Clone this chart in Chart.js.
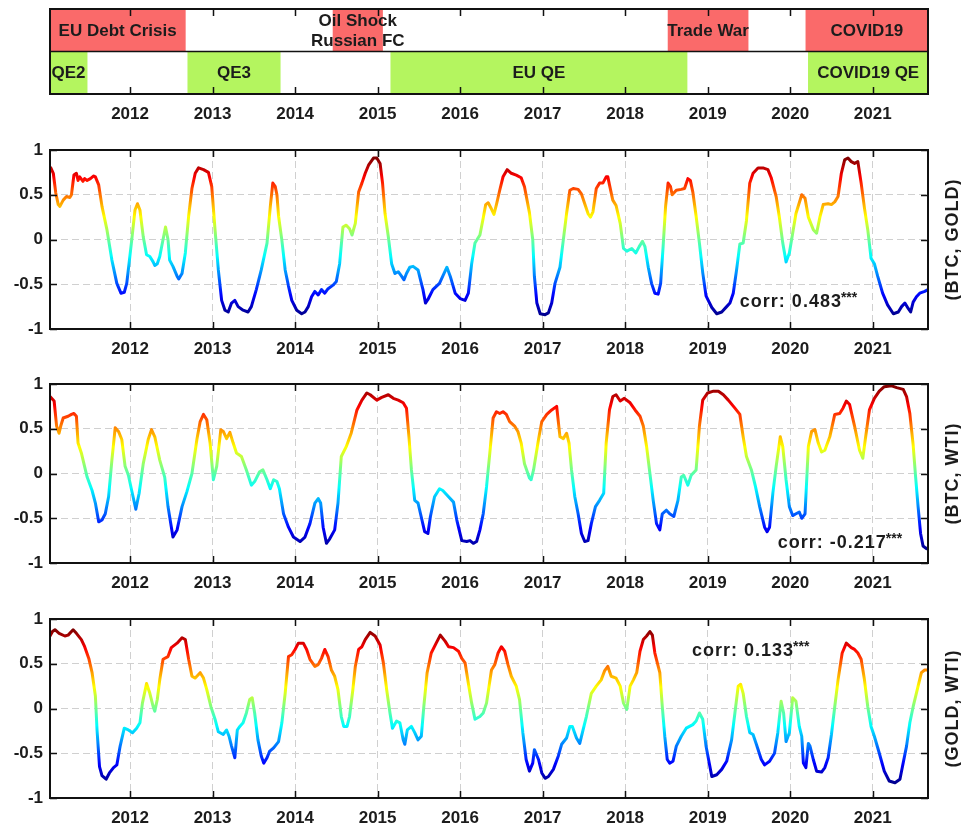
<!DOCTYPE html>
<html>
<head>
<meta charset="utf-8">
<script src="https://cdn.jsdelivr.net/npm/chart.js@4.4.0/dist/chart.umd.min.js"></script>
<style>
  html, body { margin: 0; padding: 0; background: #fff; overflow: hidden; width: 961px; height: 826px; }
  .panel { position: absolute; left: 0; width: 961px; }
</style>
</head>
<body>
<div class="panel" style="top:0px;height:140px"><canvas id="events" width="961" height="140"></canvas></div>
<div class="panel" style="top:120px;height:249px"><canvas id="btcGold" width="961" height="249"></canvas></div>
<div class="panel" style="top:354px;height:249px"><canvas id="btcWti" width="961" height="249"></canvas></div>
<div class="panel" style="top:589px;height:249px"><canvas id="goldWti" width="961" height="249"></canvas></div>
<script>
// axis ticks
const yearTicks = [2012, 2013, 2014, 2015, 2016, 2017, 2018, 2019, 2020, 2021];
const corrTicks = [-1, -0.5, 0, 0.5, 1];
const corrTickLabels = ['-1', '-0.5', '0', '0.5', '1'];

// event bars (decimal years)
const eventNames = ['EU Debt Crisis', 'Oil Shock\nRussian FC', 'Trade War', 'COVID19', 'QE2', 'QE3', 'EU QE', 'COVID19 QE'];
const eventRows = ['crisis', 'crisis', 'crisis', 'crisis', 'qe', 'qe', 'qe', 'qe'];
const eventStarts = [2011.03, 2014.46, 2018.52, 2020.19, 2011.03, 2012.70, 2015.16, 2020.22];
const eventEnds = [2012.67, 2015.06, 2019.49, 2021.67, 2011.48, 2013.82, 2018.75, 2021.67];

// (BTC, GOLD) rolling correlation
const btcGoldDates = [2011.04,2011.07,2011.10,2011.13,2011.15,2011.19,2011.23,2011.27,2011.29,2011.32,2011.35,2011.37,2011.39,2011.43,2011.45,2011.48,2011.52,2011.56,2011.58,2011.62,2011.66,2011.72,2011.78,2011.84,2011.89,2011.93,2011.96,2012.02,2012.06,2012.09,2012.12,2012.16,2012.20,2012.24,2012.28,2012.30,2012.33,2012.36,2012.40,2012.43,2012.46,2012.48,2012.52,2012.57,2012.59,2012.63,2012.67,2012.71,2012.75,2012.79,2012.83,2012.89,2012.95,2012.99,2013.03,2013.07,2013.11,2013.15,2013.19,2013.23,2013.27,2013.31,2013.37,2013.43,2013.47,2013.53,2013.59,2013.66,2013.70,2013.73,2013.76,2013.78,2013.80,2013.84,2013.88,2013.92,2013.96,2014.02,2014.08,2014.12,2014.16,2014.20,2014.24,2014.28,2014.32,2014.36,2014.40,2014.46,2014.50,2014.54,2014.58,2014.62,2014.66,2014.69,2014.73,2014.77,2014.81,2014.85,2014.89,2014.95,2014.99,2015.03,2015.06,2015.09,2015.13,2015.17,2015.21,2015.25,2015.29,2015.32,2015.35,2015.39,2015.43,2015.49,2015.52,2015.55,2015.58,2015.61,2015.67,2015.75,2015.79,2015.84,2015.88,2015.94,2016.00,2016.06,2016.10,2016.14,2016.18,2016.24,
  2016.28,2016.31,2016.34,2016.38,2016.41,2016.44,2016.48,2016.52,2016.57,2016.62,2016.68,2016.74,2016.78,2016.84,2016.88,2016.90,2016.93,2016.97,2017.03,2017.07,2017.11,2017.15,2017.21,2017.25,2017.29,2017.33,2017.37,2017.43,2017.47,2017.51,2017.55,2017.58,2017.61,2017.65,2017.69,2017.73,2017.77,2017.79,2017.81,2017.85,2017.89,2017.94,2017.98,2018.02,2018.08,2018.13,2018.17,2018.21,2018.24,2018.28,2018.32,2018.36,2018.40,2018.43,2018.46,2018.49,2018.52,2018.55,2018.57,2018.62,2018.68,2018.72,2018.76,2018.79,2018.82,2018.86,2018.90,2018.94,2018.98,2019.05,2019.11,2019.17,2019.23,2019.27,2019.31,2019.35,2019.39,2019.43,2019.47,2019.51,2019.55,2019.61,2019.67,2019.73,2019.77,2019.83,2019.87,2019.91,2019.95,2019.99,2020.03,2020.07,2020.14,2020.18,2020.22,2020.28,2020.32,2020.36,2020.40,2020.46,2020.50,2020.54,2020.58,2020.62,2020.66,2020.70,2020.74,2020.78,2020.82,2020.86,2020.90,2020.94,2020.98,2021.02,2021.06,2021.12,2021.18,2021.25,2021.31,2021.35,2021.39,2021.43,2021.46,2021.49,2021.53,2021.57,2021.63,2021.67];
const btcGoldValues = [0.80,0.74,0.52,0.39,0.37,0.44,0.48,0.47,0.50,0.72,0.74,0.66,0.70,0.65,0.68,0.66,0.68,0.71,0.70,0.61,0.37,0.11,-0.23,-0.49,-0.60,-0.59,-0.49,-0.01,0.33,0.40,0.33,0.03,-0.17,-0.19,-0.25,-0.29,-0.27,-0.19,0.00,0.14,0.00,-0.23,-0.30,-0.41,-0.44,-0.38,-0.15,0.26,0.57,0.74,0.80,0.78,0.75,0.59,0.11,-0.34,-0.68,-0.79,-0.81,-0.71,-0.68,-0.75,-0.79,-0.81,-0.75,-0.56,-0.34,-0.04,0.37,0.63,0.59,0.50,0.26,-0.01,-0.34,-0.52,-0.68,-0.79,-0.83,-0.81,-0.75,-0.64,-0.58,-0.62,-0.56,-0.60,-0.55,-0.51,-0.47,-0.27,0.14,0.16,0.12,0.05,0.18,0.53,0.63,0.74,0.83,0.91,0.91,0.85,0.63,0.29,0.03,-0.27,-0.38,-0.36,-0.41,-0.45,-0.38,-0.31,-0.30,-0.34,-0.45,-0.56,-0.71,-0.67,-0.56,-0.49,-0.41,-0.31,-0.41,-0.60,-0.66,-0.68,-0.60,-0.27,-0.04,0.05,
  0.24,0.39,0.41,0.34,0.28,0.39,0.55,0.70,0.78,0.74,0.72,0.69,0.59,0.30,0.00,-0.41,-0.71,-0.83,-0.84,-0.82,-0.71,-0.49,-0.31,-0.01,0.29,0.55,0.57,0.56,0.51,0.40,0.29,0.25,0.31,0.57,0.63,0.63,0.70,0.70,0.61,0.44,0.38,0.18,-0.10,-0.13,-0.10,-0.15,-0.08,-0.02,-0.08,-0.31,-0.49,-0.60,-0.61,-0.49,-0.08,0.37,0.63,0.59,0.50,0.55,0.56,0.57,0.68,0.66,0.53,0.26,-0.04,-0.37,-0.63,-0.76,-0.83,-0.81,-0.75,-0.71,-0.60,-0.34,-0.05,-0.04,0.21,0.63,0.74,0.80,0.80,0.78,0.69,0.48,0.24,-0.04,-0.25,-0.15,0.07,0.29,0.50,0.46,0.25,0.11,0.07,0.25,0.39,0.40,0.39,0.42,0.48,0.74,0.89,0.91,0.87,0.85,0.87,0.63,0.35,0.11,-0.21,-0.27,-0.41,-0.60,-0.73,-0.83,-0.81,-0.75,-0.71,-0.77,-0.81,-0.70,-0.64,-0.60,-0.58,-0.56];

// (BTC, WTI) rolling correlation
const btcWtiDates = [2011.03,2011.08,2011.11,2011.14,2011.16,2011.19,2011.25,2011.29,2011.32,2011.35,2011.37,2011.41,2011.48,2011.54,2011.58,2011.62,2011.66,2011.70,2011.74,2011.78,2011.82,2011.86,2011.90,2011.94,2011.98,2012.02,2012.07,2012.11,2012.16,2012.22,2012.26,2012.30,2012.36,2012.42,2012.46,2012.52,2012.57,2012.63,2012.69,2012.75,2012.81,2012.85,2012.89,2012.93,2012.97,2013.01,2013.05,2013.10,2013.13,2013.17,2013.21,2013.25,2013.29,2013.35,2013.41,2013.47,2013.51,2013.57,2013.61,2013.66,2013.70,2013.74,2013.78,2013.81,2013.86,2013.92,2013.98,2014.06,2014.12,2014.18,2014.24,2014.28,2014.31,2014.34,2014.38,2014.42,2014.48,2014.52,2014.56,2014.62,2014.68,2014.75,2014.81,2014.87,2014.91,2014.99,2015.05,2015.13,2015.19,2015.25,2015.31,2015.35,2015.38,2015.41,2015.45,2015.49,2015.52,2015.57,2015.61,2015.64,2015.69,2015.75,2015.79,2015.86,2015.92,2015.96,2016.02,2016.08,2016.12,2016.16,2016.20,2016.24,
  2016.28,2016.32,2016.36,2016.40,2016.44,2016.48,2016.52,2016.56,2016.60,2016.66,2016.70,2016.74,2016.78,2016.84,2016.86,2016.89,2016.95,2016.99,2017.05,2017.11,2017.17,2017.21,2017.25,2017.29,2017.32,2017.35,2017.39,2017.43,2017.47,2017.51,2017.55,2017.59,2017.64,2017.69,2017.74,2017.77,2017.81,2017.85,2017.89,2017.94,2017.99,2018.06,2018.12,2018.18,2018.22,2018.26,2018.30,2018.34,2018.38,2018.42,2018.45,2018.50,2018.54,2018.59,2018.64,2018.68,2018.71,2018.76,2018.80,2018.86,2018.90,2018.94,2019.00,2019.07,2019.13,2019.19,2019.25,2019.33,2019.39,2019.43,2019.47,2019.53,2019.58,2019.63,2019.69,2019.72,2019.75,2019.79,2019.83,2019.88,2019.91,2019.95,2019.99,2020.03,2020.07,2020.11,2020.14,2020.18,2020.22,2020.26,2020.30,2020.34,2020.38,2020.42,2020.48,2020.54,2020.60,2020.64,2020.68,2020.72,2020.78,2020.84,2020.88,2020.91,2020.96,2021.02,2021.08,2021.14,2021.23,2021.29,2021.37,2021.41,2021.45,2021.49,2021.52,2021.55,2021.58,2021.61,2021.65,2021.67];
const btcWtiValues = [0.86,0.81,0.53,0.45,0.53,0.62,0.64,0.66,0.67,0.64,0.34,0.23,-0.04,-0.19,-0.33,-0.54,-0.52,-0.45,-0.26,0.15,0.51,0.47,0.38,0.08,-0.02,-0.19,-0.40,-0.22,0.11,0.38,0.49,0.41,0.15,-0.04,-0.37,-0.71,-0.63,-0.37,-0.20,0.00,0.38,0.58,0.66,0.60,0.34,-0.07,0.08,0.49,0.47,0.39,0.46,0.34,0.23,0.19,0.04,-0.13,-0.09,0.02,0.04,-0.07,-0.17,-0.07,-0.09,-0.17,-0.45,-0.60,-0.71,-0.76,-0.71,-0.56,-0.33,-0.28,-0.33,-0.60,-0.78,-0.73,-0.63,-0.33,0.19,0.30,0.45,0.71,0.82,0.90,0.88,0.82,0.85,0.88,0.84,0.82,0.79,0.73,0.41,0.04,-0.30,-0.33,-0.45,-0.65,-0.67,-0.48,-0.26,-0.17,-0.19,-0.26,-0.32,-0.52,-0.75,-0.76,-0.75,-0.78,-0.76,-0.63,
  -0.45,-0.15,0.23,0.62,0.69,0.67,0.69,0.66,0.58,0.53,0.47,0.34,0.11,-0.05,-0.07,0.04,0.38,0.58,0.66,0.71,0.75,0.41,0.39,0.45,0.34,0.04,-0.26,-0.45,-0.67,-0.76,-0.75,-0.56,-0.37,-0.30,-0.22,0.34,0.71,0.86,0.88,0.81,0.84,0.79,0.71,0.64,0.53,0.30,0.00,-0.30,-0.56,-0.63,-0.45,-0.41,-0.45,-0.48,-0.30,-0.04,-0.02,-0.13,-0.02,0.04,0.53,0.82,0.90,0.92,0.92,0.88,0.82,0.73,0.66,0.41,0.19,0.04,-0.15,-0.37,-0.60,-0.65,-0.60,-0.22,0.08,0.41,0.30,-0.07,-0.37,-0.47,-0.45,-0.43,-0.50,-0.45,0.30,0.47,0.49,0.34,0.24,0.26,0.41,0.66,0.67,0.73,0.81,0.77,0.53,0.26,0.17,0.38,0.71,0.84,0.92,0.97,0.98,0.96,0.94,0.86,0.67,0.32,-0.04,-0.37,-0.67,-0.81,-0.84,-0.83];

// (GOLD, WTI) rolling correlation
const goldWtiDates = [2011.03,2011.06,2011.09,2011.14,2011.21,2011.25,2011.31,2011.35,2011.41,2011.45,2011.50,2011.54,2011.58,2011.60,2011.63,2011.66,2011.71,2011.75,2011.80,2011.84,2011.88,2011.93,2011.98,2012.03,2012.08,2012.12,2012.15,2012.20,2012.24,2012.28,2012.30,2012.33,2012.36,2012.40,2012.46,2012.50,2012.57,2012.63,2012.67,2012.71,2012.75,2012.79,2012.85,2012.89,2012.93,2012.98,2013.03,2013.07,2013.13,2013.17,2013.20,2013.23,2013.27,2013.30,2013.33,2013.37,2013.41,2013.45,2013.48,2013.51,2013.55,2013.59,2013.62,2013.66,2013.69,2013.74,2013.80,2013.84,2013.88,2013.92,2013.96,2014.00,2014.04,2014.10,2014.14,2014.18,2014.24,2014.28,2014.32,2014.36,2014.40,2014.44,2014.48,2014.52,2014.56,2014.59,2014.63,2014.66,2014.70,2014.73,2014.77,2014.81,2014.85,2014.91,2014.97,2015.03,2015.07,2015.11,2015.15,2015.18,2015.23,2015.27,2015.31,2015.33,2015.36,2015.41,2015.45,2015.49,2015.53,2015.56,2015.60,2015.65,2015.71,2015.76,2015.82,2015.86,2015.92,2015.98,2016.02,2016.06,2016.10,2016.14,2016.18,2016.24,
  2016.28,2016.32,2016.38,2016.42,2016.46,2016.50,2016.54,2016.58,2016.62,2016.68,2016.72,2016.76,2016.80,2016.84,2016.88,2016.90,2016.95,2016.99,2017.03,2017.07,2017.13,2017.19,2017.23,2017.29,2017.33,2017.36,2017.41,2017.45,2017.49,2017.53,2017.59,2017.65,2017.71,2017.75,2017.79,2017.83,2017.89,2017.94,2017.98,2018.02,2018.06,2018.10,2018.14,2018.18,2018.22,2018.26,2018.30,2018.33,2018.36,2018.42,2018.45,2018.48,2018.51,2018.54,2018.58,2018.62,2018.68,2018.74,2018.82,2018.86,2018.90,2018.94,2018.98,2019.05,2019.11,2019.17,2019.23,2019.29,2019.33,2019.37,2019.40,2019.43,2019.47,2019.51,2019.55,2019.59,2019.65,2019.69,2019.75,2019.81,2019.85,2019.89,2019.92,2019.95,2019.99,2020.03,2020.07,2020.11,2020.14,2020.16,2020.19,2020.22,2020.24,2020.28,2020.32,2020.38,2020.42,2020.46,2020.50,2020.54,2020.58,2020.63,2020.68,2020.74,2020.78,2020.82,2020.86,2020.90,2020.94,2020.98,2021.02,2021.08,2021.14,2021.20,2021.27,2021.33,2021.36,2021.41,2021.45,2021.49,2021.55,2021.59,2021.63,2021.67];
const goldWtiValues = [0.81,0.86,0.88,0.84,0.81,0.82,0.88,0.84,0.77,0.69,0.56,0.40,0.14,-0.24,-0.65,-0.75,-0.79,-0.72,-0.66,-0.63,-0.42,-0.22,-0.24,-0.27,-0.22,-0.16,0.06,0.28,0.17,0.02,-0.03,0.10,0.32,0.55,0.58,0.68,0.73,0.79,0.77,0.55,0.36,0.34,0.40,0.34,0.21,0.02,-0.12,-0.26,-0.29,-0.24,-0.31,-0.42,-0.55,-0.24,-0.20,-0.16,-0.05,0.10,0.12,-0.05,-0.35,-0.53,-0.61,-0.55,-0.48,-0.44,-0.37,-0.16,0.17,0.58,0.60,0.66,0.73,0.73,0.66,0.55,0.47,0.49,0.56,0.66,0.58,0.43,0.36,0.21,-0.09,-0.20,-0.20,-0.09,0.21,0.47,0.66,0.69,0.77,0.85,0.81,0.71,0.51,0.21,-0.05,-0.22,-0.14,-0.16,-0.35,-0.40,-0.24,-0.20,-0.27,-0.35,-0.31,0.02,0.40,0.62,0.73,0.82,0.75,0.69,0.68,0.64,0.56,0.51,0.28,0.06,-0.12,-0.09,
  -0.05,0.06,0.43,0.49,0.62,0.69,0.64,0.49,0.36,0.25,0.10,-0.27,-0.57,-0.70,-0.61,-0.46,-0.57,-0.72,-0.78,-0.76,-0.68,-0.53,-0.40,-0.33,-0.20,-0.20,-0.33,-0.39,-0.24,-0.09,0.17,0.25,0.32,0.42,0.47,0.36,0.34,0.25,0.06,-0.01,0.25,0.32,0.40,0.64,0.77,0.81,0.86,0.82,0.62,0.40,0.02,-0.31,-0.57,-0.61,-0.59,-0.42,-0.31,-0.22,-0.18,-0.14,-0.05,-0.12,-0.42,-0.76,-0.74,-0.68,-0.59,-0.35,-0.05,0.25,0.27,0.17,-0.09,-0.27,-0.29,-0.40,-0.57,-0.63,-0.59,-0.50,-0.27,0.08,-0.05,-0.37,-0.27,0.12,0.08,-0.20,-0.31,-0.61,-0.66,-0.39,-0.42,-0.57,-0.70,-0.71,-0.66,-0.55,-0.29,0.02,0.32,0.62,0.73,0.68,0.66,0.62,0.55,0.32,0.02,-0.20,-0.31,-0.50,-0.70,-0.81,-0.83,-0.79,-0.65,-0.42,-0.16,0.02,0.25,0.40,0.43,0.43];

const pairNames = ['(BTC, GOLD)', '(BTC, WTI)', '(GOLD, WTI)'];
const corrTexts = ['corr: 0.483', 'corr: -0.217', 'corr: 0.133'];
// where each corr note sits, in data units (left edge, middle)
const corrAtYear = [2019.39, 2019.85, 2018.81];
const corrAtValue = [-0.70, -0.78, 0.64];

const X_MIN = 2011.03, X_MAX = 2021.67;
const FONT = "'Liberation Sans', Arial, Helvetica, sans-serif";
const INK = '#1c1c1c';

Chart.defaults.font.family = FONT;
Chart.defaults.font.size = 17;
Chart.defaults.font.weight = 'bold';
Chart.defaults.color = INK;

// MATLAB jet colours spread over the series range
function jetGradient(chart, values) {
  const area = chart.chartArea;
  if (!area) return '#000';
  const y = chart.scales.y;
  const lo = y.getPixelForValue(Math.min(...values));
  const hi = y.getPixelForValue(Math.max(...values));
  const g = chart.ctx.createLinearGradient(0, lo, 0, hi);
  g.addColorStop(0, '#00008f');
  g.addColorStop(0.125, '#0000ff');
  g.addColorStop(0.375, '#00ffff');
  g.addColorStop(0.625, '#ffff00');
  g.addColorStop(0.875, '#ff0000');
  g.addColorStop(1, '#800000');
  return g;
}

// box, inward ticks, side label and corr note
const framePlugin = {
  id: 'frame',
  afterDatasetsDraw(chart, args, opts) {
    const { ctx, chartArea: a, scales } = chart;
    ctx.save();
    ctx.strokeStyle = '#111';
    ctx.lineWidth = 1.5;
    ctx.beginPath();
    scales.x.ticks.forEach(t => {
      const px = Math.round(scales.x.getPixelForValue(t.value)) + 0.5;
      ctx.moveTo(px, a.top); ctx.lineTo(px, a.top + 7);
      ctx.moveTo(px, a.bottom); ctx.lineTo(px, a.bottom - 7);
    });
    if (opts.yTicks) {
      scales.y.ticks.forEach(t => {
        const py = Math.round(scales.y.getPixelForValue(t.value)) + 0.5;
        ctx.moveTo(a.left, py); ctx.lineTo(a.left + 7, py);
        ctx.moveTo(a.right, py); ctx.lineTo(a.right - 7, py);
      });
    }
    if (opts.rows) {
      const my = (scales.y.getPixelForValue(0) + scales.y.getPixelForValue(1)) / 2;
      ctx.moveTo(a.left, my); ctx.lineTo(a.right, my);
    }
    ctx.stroke();
    ctx.lineWidth = 2;
    ctx.strokeRect(a.left, a.top, a.width, a.height);

    ctx.fillStyle = INK;
    if (opts.side) {
      ctx.save();
      ctx.translate(a.right + 25, (a.top + a.bottom) / 2);
      ctx.rotate(-Math.PI / 2);
      ctx.font = 'bold 18px ' + FONT;
      ctx.letterSpacing = '1px';
      ctx.textAlign = 'center';
      ctx.textBaseline = 'middle';
      ctx.fillText(opts.side, 0, 0);
      ctx.restore();
    }
    if (opts.corr) {
      const cx = scales.x.getPixelForValue(opts.corrX);
      const cy = scales.y.getPixelForValue(opts.corrY);
      ctx.font = 'bold 18px ' + FONT;
      ctx.letterSpacing = '1px';
      ctx.textAlign = 'left';
      ctx.textBaseline = 'middle';
      ctx.fillText(opts.corr, cx, cy);
      const w = ctx.measureText(opts.corr).width;
      // superscript significance stars
      ctx.font = 'bold 14px ' + FONT;
      ctx.letterSpacing = '0px';
      ctx.fillText('***', cx + w - 1, cy - 4);
    }
    ctx.restore();
  }
};

// names inside the event bars
const barTextPlugin = {
  id: 'barText',
  afterDatasetsDraw(chart, args, opts) {
    const ctx = chart.ctx;
    const meta = chart.getDatasetMeta(0);
    ctx.save();
    ctx.fillStyle = INK;
    ctx.font = 'bold 17px ' + FONT;
    ctx.textAlign = 'center';
    ctx.textBaseline = 'middle';
    meta.data.forEach((bar, i) => {
      const lines = opts.names[i].split('\n');
      const cx = (bar.x + bar.base) / 2;
      lines.forEach((ln, k) => {
        ctx.fillText(ln, cx, bar.y + 1 + (k - (lines.length - 1) / 2) * 20);
      });
    });
    ctx.restore();
  }
};

function yearAxis(showGrid, height) {
  return {
    type: 'linear',
    min: X_MIN,
    max: X_MAX,
    afterBuildTicks: s => { s.ticks = yearTicks.map(v => ({ value: v })); },
    afterFit: s => { s.height = height; },
    ticks: { autoSkip: false, maxRotation: 0, padding: 10, callback: v => String(v) },
    grid: { display: showGrid, drawTicks: false, color: '#d0d0d0', lineWidth: 1 },
    border: { display: false, dash: [7, 4] }
  };
}

// top strip: crises and QE programmes
new Chart(document.getElementById('events'), {
  type: 'bar',
  data: {
    labels: ['crisis', 'qe'],
    datasets: [{
      data: eventNames.map((n, i) => ({ y: eventRows[i], x: [eventStarts[i], eventEnds[i]] })),
      backgroundColor: eventRows.map(r => r === 'crisis' ? '#fa6a6a' : '#b4f55f'),
      barPercentage: 1,
      categoryPercentage: 1,
      borderWidth: 0,
      grouped: false
    }]
  },
  options: {
    indexAxis: 'y',
    responsive: false,
    animation: false,
    layout: { padding: { top: 9, right: 33, left: 0, bottom: 0 } },
    plugins: {
      legend: { display: false },
      tooltip: { enabled: false },
      frame: { rows: true },
      barText: { names: eventNames }
    },
    scales: {
      x: yearAxis(false, 46),
      y: {
        afterFit: s => { s.width = 50; },
        ticks: { display: false },
        grid: { display: false },
        border: { display: false }
      }
    }
  },
  plugins: [framePlugin, barTextPlugin]
});

function corrChart(id, dates, values, k) {
  new Chart(document.getElementById(id), {
    type: 'line',
    data: {
      datasets: [{
        data: dates.map((d, i) => ({ x: d, y: values[i] })),
        borderColor: ctx => jetGradient(ctx.chart, values),
        borderWidth: 3,
        pointRadius: 0,
        tension: 0,
        fill: false,
        borderJoinStyle: 'round',
        borderCapStyle: 'round'
      }]
    },
    options: {
      responsive: false,
      animation: false,
      layout: { padding: { top: 30, right: 33, left: 0, bottom: 0 } },
      plugins: {
        legend: { display: false },
        tooltip: { enabled: false },
        frame: { yTicks: true, side: pairNames[k], corr: corrTexts[k], corrX: corrAtYear[k], corrY: corrAtValue[k] }
      },
      scales: {
        x: yearAxis(true, 40),
        y: {
          min: -1,
          max: 1,
          afterBuildTicks: s => { s.ticks = corrTicks.map(v => ({ value: v })); },
          afterFit: s => { s.width = 50; },
          ticks: { padding: 7, callback: (v, i) => corrTickLabels[i] },
          grid: {
            drawTicks: false,
            lineWidth: 1,
            color: c => Math.abs(c.tick.value) === 1 ? 'rgba(0,0,0,0)' : '#d0d0d0'
          },
          border: { display: false, dash: [7, 4] }
        }
      }
    },
    plugins: [framePlugin]
  });
}

corrChart('btcGold', btcGoldDates, btcGoldValues, 0);
corrChart('btcWti', btcWtiDates, btcWtiValues, 1);
corrChart('goldWti', goldWtiDates, goldWtiValues, 2);
</script>
</body>
</html>
